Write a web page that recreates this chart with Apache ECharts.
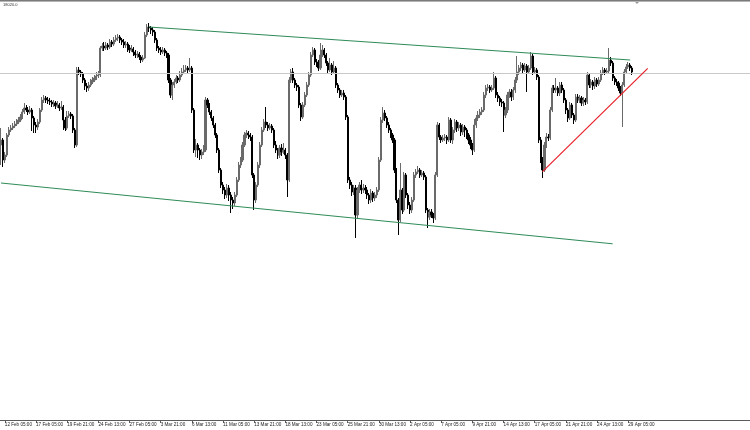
<!DOCTYPE html>
<html>
<head>
<meta charset="utf-8">
<script src="https://cdn.jsdelivr.net/npm/echarts@6/dist/echarts.min.js"></script>
<style>
  html, body { margin: 0; padding: 0; background: #fff; }
  #chart { width: 750px; height: 430px; }
</style>
</head>
<body>
<div id="chart"></div>
<script>
// H4 bars (price units)
var firstOpen = 17660;
var closes = [17685,17585,17610,17710,17735,17745,17755,17765,17775,17785,
17800,17825,17845,17835,17825,17835,17795,17760,17750,17775,
17835,17885,17895,17885,17880,17875,17865,17870,17855,17860,
17845,17850,17785,17745,17805,17815,17805,17735,17660,18035,
18025,18015,17985,17955,17945,17960,17975,17985,17995,18005,
18010,18145,18155,18145,18160,18150,18175,18165,18185,18195,
18200,18185,18175,18160,18165,18145,18135,18140,18125,18110,
18115,18100,18085,18095,18210,18250,18245,18235,18225,18185,
18145,18135,18125,18135,18120,18110,17985,17910,17960,17975,
17995,17985,18010,18025,18035,18045,18035,18045,17835,17635,
17660,17635,17610,17625,17635,17885,17860,17825,17795,17760,
17710,17635,17535,17460,17435,17410,17445,17410,17385,17370,
17410,17485,17560,17585,17660,17710,17720,17710,17700,17510,
17385,17460,17560,17660,17735,17775,17760,17745,17755,17735,
17660,17635,17610,17645,17625,17635,17610,17485,17985,18025,
17985,17960,17950,17860,17800,17860,17910,17960,18010,18110,
18135,18075,18070,18045,18110,18135,18110,18070,18035,18060,
18025,18045,17960,17935,17910,17920,17900,17800,17485,17460,
17425,17445,17310,17435,17460,17435,17445,17435,17410,17385,
17420,17395,17410,17435,17585,17785,17820,17795,17760,17735,
17710,17685,17535,17385,17285,17435,17335,17510,17410,17360,
17335,17385,17510,17525,17535,17510,17520,17500,17335,17300,
17325,17310,17295,17510,17760,17700,17685,17695,17700,17685,
17785,17685,17735,17775,17745,17760,17725,17750,17735,17710,
17685,17660,17635,17760,17795,17810,17825,17835,17910,17945,
17950,17935,17945,17995,17910,17895,17875,17870,17810,17835,
17910,17925,17900,17935,17985,18025,18045,18060,18035,18055,
18025,18045,18105,18025,18035,18000,17685,17585,17535,17660,
17700,17695,17835,17945,17935,17945,17920,17960,17935,17885,
17835,17795,17860,17810,17785,17900,17885,17895,17870,17885,
17875,18010,17960,17975,17955,17985,17965,17985,18020,18035,
18025,18030,18085,18070,17995,17975,17970,17945,17920,17960,
18025,18050,18060,18045,18025];
var highs = [17745,17695,17625,17720,17750,17760,17770,17780,17790,17800,
17815,17840,17870,17860,17850,17855,17845,17805,17775,17790,
17845,17900,17910,17905,17900,17895,17885,17885,17880,17880,
17870,17880,17860,17800,17830,17830,17825,17815,17745,18050,
18050,18035,18025,17995,17970,17975,17990,18000,18010,18025,
18030,18155,18170,18175,18175,18170,18190,18185,18200,18210,
18215,18210,18195,18190,18180,18175,18160,18160,18150,18135,
18130,18125,18110,18110,18225,18265,18270,18255,18250,18235,
18195,18155,18150,18150,18145,18130,18120,17995,17975,17990,
18010,18005,18030,18045,18060,18060,18055,18095,18055,17845,
17690,17670,17645,17640,17660,17900,17895,17870,17835,17805,
17770,17720,17645,17545,17475,17450,17465,17460,17425,17400,
17425,17500,17575,17600,17675,17725,17735,17730,17720,17710,
17520,17475,17575,17675,17750,17790,17850,17775,17770,17765,
17745,17680,17645,17660,17665,17670,17645,17620,18000,18040,
18045,17995,17970,17960,17870,17875,17925,17975,18025,18125,
18150,18145,18090,18085,18170,18160,18145,18120,18080,18095,
18070,18080,18055,17970,17945,17935,17935,17910,17810,17500,
17475,17460,17460,17450,17475,17485,17465,17460,17450,17420,
17440,17430,17425,17450,17600,17800,17850,17835,17805,17775,
17745,17720,17695,17545,17395,17570,17445,17525,17520,17420,
17375,17400,17525,17540,17555,17545,17535,17530,17510,17345,
17340,17340,17320,17525,17775,17770,17710,17710,17715,17710,
17800,17795,17750,17790,17785,17775,17770,17765,17760,17745,
17720,17700,17670,17790,17810,17830,17840,17850,17925,17960,
17965,17960,17960,18025,18005,17925,17905,17890,17880,17850,
17925,17940,17940,17950,18000,18105,18060,18075,18070,18070,
18065,18060,18125,18115,18050,18045,18010,17700,17600,17675,
17720,17715,17850,17960,17960,17995,17955,17975,17975,17945,
17895,17845,17875,17870,17820,17915,17915,17910,17905,17900,
17895,18025,18020,17990,17985,18000,17995,18000,18035,18050,
18045,18045,18145,18100,18080,18005,17990,17980,17955,17975,
18040,18065,18075,18070,18055];
var lows = [17560,17550,17570,17600,17700,17725,17735,17745,17755,17765,
17775,17790,17815,17825,17810,17815,17730,17720,17720,17735,
17765,17825,17870,17870,17865,17860,17850,17850,17840,17845,
17830,17835,17735,17730,17735,17795,17790,17720,17645,17650,
18010,18000,17970,17935,17925,17930,17950,17965,17975,17985,
17995,18000,18130,18130,18135,18135,18140,18150,18155,18175,
18180,18170,18160,18145,18145,18125,18120,18125,18105,18095,
18095,18085,18070,18075,18090,18200,18225,18215,18205,18170,
18130,18120,18110,18115,18105,18095,17970,17895,17885,17945,
17965,17970,17975,18000,18015,18025,18020,18025,17820,17620,
17600,17595,17585,17590,17610,17625,17845,17810,17780,17745,
17695,17620,17520,17445,17415,17390,17395,17380,17320,17340,
17355,17400,17475,17545,17575,17650,17695,17690,17680,17495,
17335,17370,17450,17545,17650,17725,17745,17730,17735,17720,
17645,17620,17590,17595,17605,17615,17590,17400,17475,17970,
17970,17945,17930,17845,17780,17790,17850,17900,17950,18000,
18100,18060,18050,18030,18035,18100,18095,18055,18020,18025,
18010,18015,17945,17920,17895,17900,17885,17785,17470,17440,
17405,17410,17195,17290,17420,17415,17420,17415,17390,17365,
17370,17375,17380,17395,17425,17575,17770,17780,17745,17720,
17695,17670,17520,17370,17210,17275,17315,17325,17395,17340,
17315,17320,17375,17495,17515,17495,17500,17485,17320,17245,
17285,17295,17270,17285,17500,17685,17670,17675,17680,17665,
17675,17670,17665,17720,17725,17730,17705,17710,17700,17690,
17665,17640,17610,17625,17745,17780,17795,17810,17825,17895,
17930,17920,17925,17935,17895,17875,17855,17850,17725,17795,
17820,17895,17880,17885,17920,17970,18010,18030,18020,18025,
17925,18015,18035,18010,18020,17985,17670,17570,17495,17525,
17645,17680,17685,17825,17920,17920,17905,17905,17920,17870,
17815,17775,17785,17795,17765,17775,17870,17870,17855,17855,
17860,17865,17945,17945,17935,17940,17950,17955,17975,18010,
18010,18015,18020,18055,17980,17960,17955,17930,17905,17750,
17950,18015,18040,18030,18010];

// time labels on the bottom scale, one every 16 bars starting at bar 2
var tickLabels = ["12 Feb 05:00","17 Feb 05:00","19 Feb 21:00","24 Feb 13:00","27 Feb 05:00",
  "3 Mar 21:00","6 Mar 13:00","11 Mar 05:00","13 Mar 21:00","18 Mar 13:00","23 Mar 05:00",
  "25 Mar 21:00","30 Mar 13:00","2 Apr 05:00","7 Apr 05:00","9 Apr 21:00","14 Apr 13:00",
  "17 Apr 05:00","21 Apr 21:00","24 Apr 13:00","29 Apr 05:00"];
var tickStart = 2, tickStep = 16;

// drawn objects: channel, support line, level
var levelPrice = 18020;
var upperChannel = [[76, 18250], [323, 18085]];
var lowerChannel = [[0, 17470], [314, 17166]];
var supportLine = [[278, 17527], [332, 18043]];

var slots = 385; // chart width in bars (right shift included)
var cats = [];
for (var i = 0; i < slots; i++) cats.push(String(i));

var ohlc = [];
for (var i = 0; i < closes.length; i++) {
  var o = i === 0 ? firstOpen : closes[i - 1];
  ohlc.push([o, closes[i], lows[i], highs[i]]);
}

function isTick(idx) {
  var k = idx - tickStart;
  return k >= 0 && k % tickStep === 0 && k / tickStep < tickLabels.length;
}

var myChart = echarts.init(document.getElementById('chart'), null, { renderer: 'canvas' });
var option = {
  animation: false,
  backgroundColor: '#fff',
  grid: { left: 0, right: 0, top: 0, height: 420 },
  xAxis: {
    type: 'category',
    data: cats,
    boundaryGap: true,
    axisLine: { show: true, lineStyle: { color: '#5a5a5a', width: 1 } },
    axisTick: {
      show: true,
      alignWithLabel: true,
      length: 3,
      interval: function (idx) { return isTick(idx); },
      lineStyle: { color: '#5a5a5a' }
    },
    axisLabel: {
      interval: function (idx) { return isTick(idx); },
      formatter: function (v, idx) { return tickLabels[(idx - tickStart) / tickStep]; },
      align: 'left',
      margin: 2,
      fontSize: 4.6,
      fontFamily: 'Liberation Sans',
      color: '#222'
    },
    splitLine: { show: false }
  },
  yAxis: {
    type: 'value',
    min: 16285,
    max: 18385,
    show: false,
    splitLine: { show: false }
  },
  graphic: [
    { type: 'rect', shape: { x: 0, y: 0, width: 750, height: 1 }, style: { fill: '#7a7a7a' } },
    { type: 'rect', shape: { x: 0, y: 1, width: 750, height: 1 }, style: { fill: '#b4b4b4' } },
    { type: 'polygon', shape: { points: [[635, 2], [639, 2], [637, 4]] }, style: { fill: '#9a9a9a' } },
    { type: 'text', left: 3, top: 3, style: { text: '18020.0', fontSize: 4, fontFamily: 'Liberation Sans', fill: '#333' } }
  ],
  series: [
    {
      type: 'candlestick',
      data: ohlc,
      barWidth: 1.6,
      itemStyle: {
        color: '#6a6a6a',
        color0: '#000',
        borderColor: '#6a6a6a',
        borderColor0: '#000',
        borderWidth: 1
      },
      markLine: {
        silent: true,
        symbol: ['none', 'none'],
        label: { show: false },
        data: [
          { yAxis: levelPrice, lineStyle: { color: '#c8c8c8', width: 1, type: 'solid' } },
          [{ coord: upperChannel[0], lineStyle: { color: '#2e8b57', width: 1, type: 'solid' } }, { coord: upperChannel[1] }],
          [{ coord: lowerChannel[0], lineStyle: { color: '#2e8b57', width: 1, type: 'solid' } }, { coord: lowerChannel[1] }],
          [{ coord: supportLine[0], lineStyle: { color: '#e8202a', width: 1.2, type: 'solid' } }, { coord: supportLine[1] }]
        ]
      }
    }
  ]
};
option && myChart.setOption(option);
</script>
</body>
</html>
